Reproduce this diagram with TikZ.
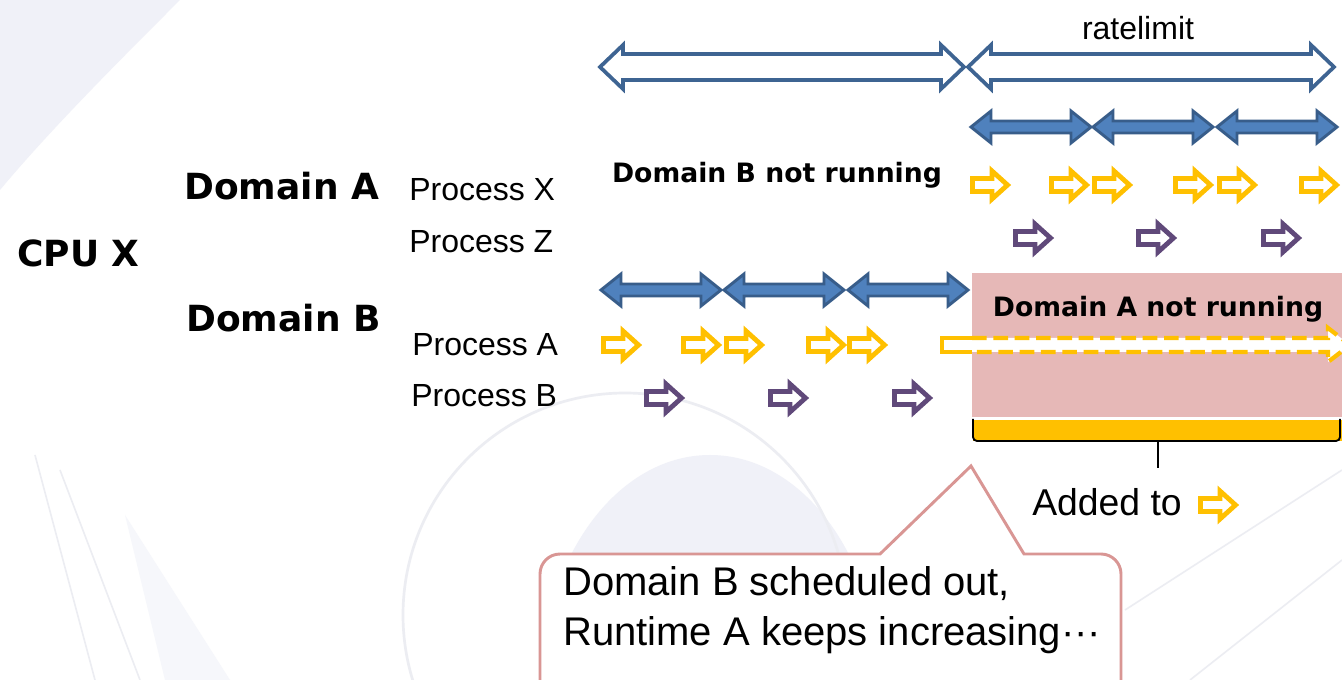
\documentclass[tikz,border=0pt]{standalone}
\usepackage{fontspec}
\setmainfont{Liberation Sans}
\newfontfamily\headfont{DejaVu Sans}
\usetikzlibrary{positioning}

\definecolor{slotline}{RGB}{56,93,138}
\definecolor{slotfill}{RGB}{79,129,189}
\definecolor{periodline}{RGB}{62,100,146}
\definecolor{runyellow}{RGB}{255,192,0}
\definecolor{runpurple}{RGB}{96,73,122}
\definecolor{idlepink}{RGB}{230,184,183}
\definecolor{calloutpink}{RGB}{217,150,148}
\definecolor{wmfill}{RGB}{240,241,248}
\definecolor{wmline}{RGB}{236,237,242}

\tikzset{
  pics/run/.style={code={
    \draw[pic actions, line width=3.6pt]
      (-18.5,-6.5) -- (1,-6.5) -- (1,-14) -- (16.5,0) -- (1,14) -- (1,6.5) -- (-18.5,6.5) -- cycle;
  }},
  pics/slot/.style={code={
    \draw[pic actions, line width=2.2pt]
      (-#1,0) -- (-#1+20,-16) -- (-#1+20,-6) -- (#1-20,-6) -- (#1-20,-16)
      -- (#1,0) -- (#1-20,16) -- (#1-20,6) -- (-#1+20,6) -- (-#1+20,16) -- cycle;
  }},
  pics/period/.style={code={
    \draw[pic actions, line width=2.8pt]
      (-#1,0) -- (-#1+23,-22) -- (-#1+23,-13) -- (#1-23,-13) -- (#1-23,-22)
      -- (#1,0) -- (#1-23,22) -- (#1-23,13) -- (-#1+23,13) -- (-#1+23,22) -- cycle;
  }},
}

\begin{document}
\begin{tikzpicture}[x=0.75pt, y=-0.75pt,
  cpu/.style={font=\headfont\bfseries\fontsize{27}{30}\selectfont, anchor=west, inner sep=0pt},
  proc/.style={font=\fontsize{24}{28}\selectfont, anchor=west, inner sep=0pt},
  idle/.style={font=\headfont\bfseries\fontsize{20}{24}\selectfont, inner sep=0pt},
  yrun/.style={draw=runyellow, fill=white},
  prun/.style={draw=runpurple, fill=white},
  slotarrow/.style={draw=slotline, fill=slotfill},
  callout/.style={draw=calloutpink, fill=white, line width=2.2pt}]

\useasboundingbox (0,0) rectangle (1342,680);
\clip (0,0) rectangle (1342,680);
\fill[white] (0,0) rectangle (1342,680);

% faint watermark in the background
\fill[wmfill] (0,0) -- (180,0) .. controls (120,60) and (50,130) .. (0,190) -- cycle;
\fill[wmfill] (710,690) ellipse [x radius=170, y radius=235];
\draw[wmline, line width=2pt] (625,615) circle [radius=222];
\fill[wmfill!60!white] (125,515) -- (230,680) -- (165,680) -- cycle;
\draw[wmline, line width=1.2pt] (35,455) -- (95,680);
\draw[wmline, line width=1.2pt] (60,470) -- (140,680);
\draw[wmline, line width=1.2pt] (1125,610) -- (1342,470);
\draw[wmline, line width=1.2pt] (1190,680) -- (1342,560);

% period arrows on top
\pic[draw=periodline, fill=white] at (782,67) {period=182};
\pic[draw=periodline, fill=white] at (1151,67) {period=183};
\node[font=\fontsize{24}{28}\selectfont, inner sep=0pt] (rlimit) at (1138,28) {ratelimit};

% time slices of the two domains
\foreach \x in {1031,1153,1277} \pic[slotarrow] at (\x,127) {slot=60};
\foreach \x in {661,784,908} \pic[slotarrow] at (\x,290) {slot=60};

% Domain A is off while B runs
\fill[idlepink] (972,273) rectangle (1342,417);
\node[idle] (idleb) at (777,175) {Domain B not running};
\node[idle] (idlea) at (1158,309) {Domain A not running};

% process runs
\foreach \x in {991,1070,1113,1194,1238,1320} \pic[yrun] at (\x,185) {run};
\foreach \x in {1034,1157,1282} \pic[prun] at (\x,238) {run};
\foreach \x in {622,702,745,827,868} \pic[yrun] at (\x,345) {run};
\foreach \x in {665,789,913} \pic[prun] at (\x,398) {run};

% runtime A keeps going (dashed)
\draw[runyellow, line width=3.2pt, fill=white, dash pattern=on 11pt off 5pt]
  (972,338) -- (1328,338) -- (1328,328) -- (1350,345) -- (1328,362) -- (1328,352) -- (972,352);
\draw[runyellow, line width=3.2pt, fill=white] (972,338) -- (942,338) -- (942,352) -- (972,352);

% brace under the idle part
\fill[runyellow] (973,420) rectangle (1342,441);
\draw[line width=1.4pt, rounded corners=3pt] (973,419) -- (973,441) -- (1340,441) -- (1340,419);
\draw[line width=1.4pt] (1158,441) -- (1158,468);
\node[font=\fontsize{28}{32}\selectfont, anchor=west, inner sep=0pt] (added) at (1032,502) {Added to};
\pic[yrun] at (1219,505) {run};

% labels
\node[cpu] (cpux) at (17,253) {CPU X};
\node[cpu] (doma) at (184,186) {Domain A};
\node[cpu] (domb) at (186,318) {Domain B};
\node[proc] (procx) at (409,190) {Process X};
\node[proc] (procz) at (409,242) {Process Z};
\node[proc] (proca) at (412,345) {Process A};
\node[proc] (procb) at (411,396) {Process B};

% speech bubble
\draw[callout] (880,554) -- (971,466) -- (1024,554) [rounded corners=15pt]
  -- (1121,554) -- (1121,700) -- (540,700) -- (540,554) [sharp corners] -- cycle;
\node[font=\fontsize{30}{37.5}\selectfont, anchor=west, align=left, inner sep=0pt] (note) at (563,610)
  {Domain B scheduled out,\\Runtime A keeps increasing···};

\end{tikzpicture}
\end{document}
